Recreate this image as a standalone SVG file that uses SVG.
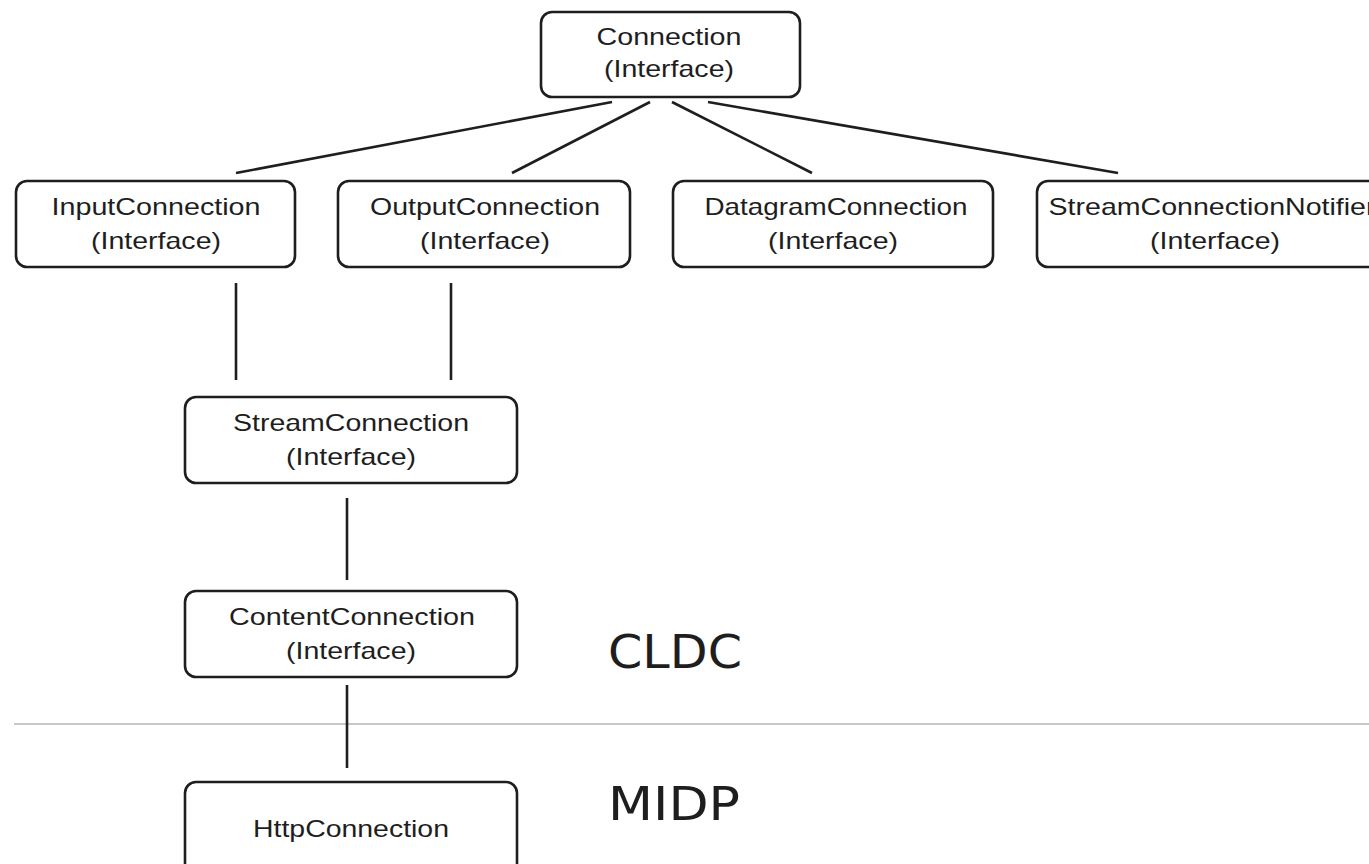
<svg xmlns="http://www.w3.org/2000/svg" width="1369" height="864" viewBox="0 0 1369 864">
  <defs>
    <style>
      .box { fill: #ffffff; stroke: #1e1e1e; stroke-width: 2.6; }
      .lbl { font-family: "Liberation Sans", Arial, sans-serif; font-size: 24px; fill: #1e1e1e; text-anchor: middle; }
      .edge { stroke: #1e1e1e; stroke-width: 2.6; fill: none; stroke-linecap: butt; }
      .layer { font-family: "DejaVu Sans", Verdana, sans-serif; font-size: 46px; fill: #1e1e1e; }
      .divider { stroke: #b4b4b4; stroke-width: 1.6; }
    </style>
  </defs>
  <rect width="1369" height="864" fill="#ffffff"/>

  <!-- layer divider -->
  <line class="divider" x1="14" y1="724" x2="1369" y2="724"/>

  <!-- inheritance links -->
  <g id="connectors">
    <line class="edge" x1="612" y1="102" x2="236" y2="173"/>
    <line class="edge" x1="650" y1="102" x2="512" y2="173"/>
    <line class="edge" x1="672" y1="102" x2="812" y2="173"/>
    <line class="edge" x1="708" y1="102" x2="1118" y2="173"/>
    <line class="edge" x1="236" y1="283" x2="236" y2="380"/>
    <line class="edge" x1="451" y1="283" x2="451" y2="380"/>
    <line class="edge" x1="347" y1="498" x2="347" y2="580"/>
    <line class="edge" x1="347" y1="685" x2="347" y2="768"/>
  </g>

  <g id="connection">
    <rect class="box" x="541" y="12" width="259" height="85" rx="11"/>
    <text class="lbl" x="669" y="45" textLength="145" lengthAdjust="spacingAndGlyphs">Connection</text>
    <text class="lbl" x="669" y="77" textLength="130" lengthAdjust="spacingAndGlyphs">(Interface)</text>
  </g>

  <g id="input-connection">
    <rect class="box" x="16" y="181" width="279" height="86" rx="11"/>
    <text class="lbl" x="156" y="215" textLength="209" lengthAdjust="spacingAndGlyphs">InputConnection</text>
    <text class="lbl" x="156" y="249" textLength="130" lengthAdjust="spacingAndGlyphs">(Interface)</text>
  </g>

  <g id="output-connection">
    <rect class="box" x="338" y="181" width="292" height="86" rx="11"/>
    <text class="lbl" x="485" y="215" textLength="230" lengthAdjust="spacingAndGlyphs">OutputConnection</text>
    <text class="lbl" x="485" y="249" textLength="130" lengthAdjust="spacingAndGlyphs">(Interface)</text>
  </g>

  <g id="datagram-connection">
    <rect class="box" x="673" y="181" width="320" height="86" rx="11"/>
    <text class="lbl" x="836" y="215" textLength="263" lengthAdjust="spacingAndGlyphs">DatagramConnection</text>
    <text class="lbl" x="833" y="249" textLength="130" lengthAdjust="spacingAndGlyphs">(Interface)</text>
  </g>

  <g id="stream-connection-notifier">
    <rect class="box" x="1037" y="181" width="356" height="86" rx="11"/>
    <text class="lbl" x="1212" y="215" textLength="327" lengthAdjust="spacingAndGlyphs">StreamConnectionNotifier</text>
    <text class="lbl" x="1215" y="249" textLength="130" lengthAdjust="spacingAndGlyphs">(Interface)</text>
  </g>

  <g id="stream-connection">
    <rect class="box" x="185" y="397" width="332" height="86" rx="11"/>
    <text class="lbl" x="351" y="431" textLength="236" lengthAdjust="spacingAndGlyphs">StreamConnection</text>
    <text class="lbl" x="351" y="465" textLength="130" lengthAdjust="spacingAndGlyphs">(Interface)</text>
  </g>

  <g id="content-connection">
    <rect class="box" x="185" y="591" width="332" height="86" rx="11"/>
    <text class="lbl" x="352" y="625" textLength="246" lengthAdjust="spacingAndGlyphs">ContentConnection</text>
    <text class="lbl" x="351" y="659" textLength="130" lengthAdjust="spacingAndGlyphs">(Interface)</text>
  </g>

  <g id="http-connection">
    <rect class="box" x="185" y="782" width="332" height="100" rx="11"/>
    <text class="lbl" x="351" y="837" textLength="196" lengthAdjust="spacingAndGlyphs">HttpConnection</text>
  </g>

  <!-- layer names -->
  <text class="layer" x="608" y="668" textLength="134" lengthAdjust="spacingAndGlyphs">CLDC</text>
  <text class="layer" x="608" y="820" textLength="132" lengthAdjust="spacingAndGlyphs">MIDP</text>
</svg>
